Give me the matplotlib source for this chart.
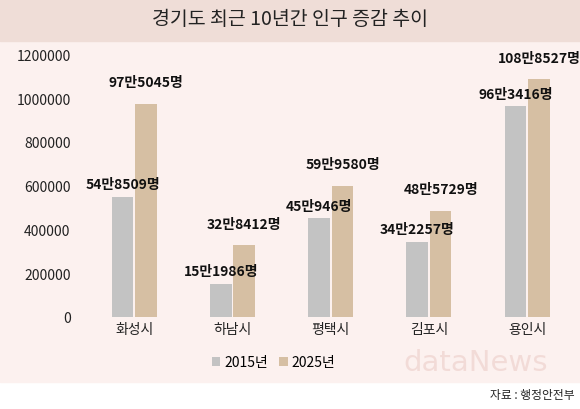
import matplotlib.pyplot as plt
from matplotlib.ticker import FuncFormatter
import numpy as np

plt.rcParams['font.family'] = ['Noto Sans CJK KR', 'DejaVu Sans']

cities = ["화성시", "하남시", "평택시", "김포시", "용인시"]
pop_2015 = [548509, 151986, 450946, 342257, 963416]
pop_2025 = [975045, 328412, 599580, 485729, 1088527]
labels_2015 = ["54만8509명", "15만1986명", "45만946명", "34만2257명", "96만3416명"]
labels_2025 = ["97만5045명", "32만8412명", "59만9580명", "48만5729명", "108만8527명"]

PANEL, BAND = "#fcf1ef", "#efddd7"
GRAY, TAN = "#c3c3c3", "#d6bfa3"

fig = plt.figure(figsize=(5.8, 4.1), dpi=100)
fig.patch.set_facecolor("white")
fig.patches.append(plt.Rectangle((0, 0.066), 1, 0.934, transform=fig.transFigure,
                                 color=PANEL, zorder=-2))
fig.patches.append(plt.Rectangle((0, 0.898), 1, 0.102, transform=fig.transFigure,
                                 color=BAND, zorder=-1))
fig.text(0.5, 0.952, "경기도 최근 10년간 인구 증감 추이", ha="center", va="center",
         fontsize=14, color="#222222")
fig.text(0.99, 0.035, "자료 : 행정안전부", ha="right", va="center", fontsize=8.5,
         color="#222222")
fig.text(0.82, 0.115, "dataNews", ha="center", va="center", fontsize=21,
         color="#f0d6d2", alpha=0.8, family="DejaVu Sans")

ax = fig.add_axes([0.13, 0.225, 0.855, 0.64])
ax.set_facecolor("none")
x = np.arange(len(cities))
w = 0.22
ax.bar(x - w / 2 - 0.01, pop_2015, w, color=GRAY, label="2015년")
ax.bar(x + w / 2 + 0.01, pop_2025, w, color=TAN, label="2025년")
for i in range(len(cities)):
    ax.text(x[i] - w / 2 - 0.01, pop_2015[i] + 25000, labels_2015[i], ha="center",
            va="bottom", fontsize=10, fontweight="bold", color="#111111")
    ax.text(x[i] + w / 2 + 0.01, pop_2025[i] + 65000, labels_2025[i], ha="center",
            va="bottom", fontsize=10, fontweight="bold", color="#111111")
ax.set_ylim(0, 1200000)
ax.set_yticks(range(0, 1200001, 200000))
ax.yaxis.set_major_formatter(FuncFormatter(lambda v, p: f"{int(v)}"))
ax.set_xticks(x, cities)
ax.set_xlim(-0.6, 4.45)
for s in ax.spines.values():
    s.set_visible(False)
ax.tick_params(length=0, labelsize=10, colors="#222222")
ax.legend(loc="upper center", bbox_to_anchor=(0.4, -0.1), ncol=2, frameon=False,
          fontsize=10, handlelength=0.6, handleheight=0.6, handletextpad=0.3,
          columnspacing=0.8)
fig.savefig("out.png", dpi=100)
